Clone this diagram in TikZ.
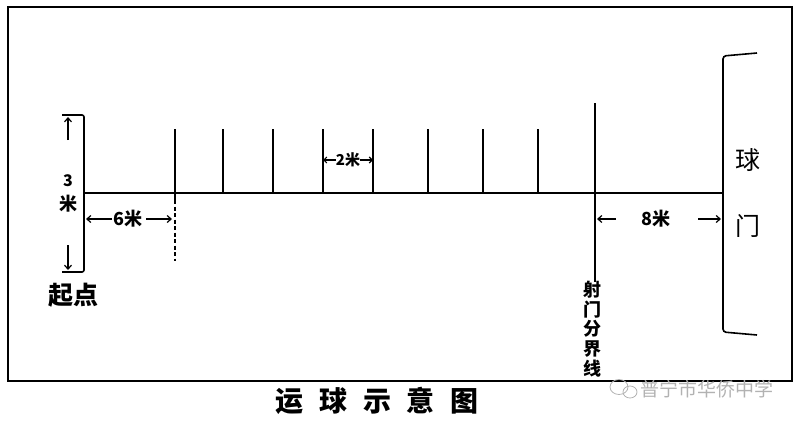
\documentclass[tikz,border=0pt]{standalone}
\usepackage{fontspec}
\newfontfamily\cjk{Noto Sans CJK SC}
\usetikzlibrary{arrows.meta}
\begin{document}
\begin{tikzpicture}[x=1pt,y=-1pt,
  line/.style={line width=1.6pt, black},
  dim/.style={line width=1.2pt, -{Straight Barb[length=4pt,width=7pt]}},
  lbl/.style={font=\cjk\bfseries, inner sep=0pt},
]
\useasboundingbox (0,0) rectangle (800,423);
% frame
\draw[line width=1.8pt] (8,7) rectangle (792,381);
% main line
\coordinate (start) at (84,193);
\coordinate (goalmid) at (723,193);
\draw[line] (start) -- (goalmid);
% start bar (bracket)
\coordinate (sb1) at (62,115);
\coordinate (sb4) at (62,272);
\draw[line, rounded corners=2pt] (sb1) -- (84,115) -- (84,272) -- (sb4);
\coordinate (ua1) at (68,140); \coordinate (ua2) at (68,117);
\coordinate (da1) at (68,245); \coordinate (da2) at (68,270);
\draw[dim] (ua1) -- (ua2);
\draw[dim] (da1) -- (da2);
\node[lbl, font=\cjk\bfseries\fontsize{16}{16}\selectfont] (three) at (68,181) {3};
\node[lbl, font=\cjk\bfseries\fontsize{18}{18}\selectfont] (mi) at (68,204) {米};
\node[lbl, font=\cjk\bfseries\fontsize{25}{25}\selectfont] (qidian) at (73,295) {起点};
% poles
\foreach \i/\x in {1/175,2/223,3/273,4/323,5/373,6/428,7/483,8/538}{
  \coordinate (p\i t) at (\x,129);
  \coordinate (p\i b) at (\x,193);
  \draw[line] (p\i t) -- (p\i b);
}
% dashed extension of first pole
\coordinate (p1d) at (175,261);
\draw[line] (p1b) -- (175,200);
\draw[line, dash pattern=on 4pt off 2.5pt] (175,200) -- (p1d);
% 6 m
\node[lbl, font=\cjk\bfseries\fontsize{18}{18}\selectfont] (six) at (128,219) {6米};
\draw[dim] (112,219) -- (86,219);
\draw[dim] (146,219) -- (172,219);
% 2 m
\node[lbl, font=\cjk\bfseries\fontsize{15}{15}\selectfont] (two) at (348,160) {2米};
\draw[line width=1.1pt, -{Straight Barb[length=3pt,width=6pt]}] (two.west) -- (p4t |- two);
\draw[line width=1.1pt, -{Straight Barb[length=3pt,width=6pt]}] (two.east) -- (p5t |- two);
% shooting line
\coordinate (sl1) at (595,103);
\coordinate (sl2) at (595,282);
\draw[line] (sl1) -- (sl2);
\node[lbl, font=\cjk\bfseries\fontsize{18}{19.6}\selectfont, align=center, anchor=north] (shemen) at (592,281) {射\\门\\分\\界\\线};
% 8 m
\node[lbl, font=\cjk\bfseries\fontsize{18}{18}\selectfont] (eight) at (656,219) {8米};
\draw[dim] (616,219) -- (597,219);
\draw[dim] (698,219) -- (721,219);
% goal
\coordinate (g1) at (757,53);
\coordinate (g2) at (757,335);
\draw[line, rounded corners=3pt] (g1) -- (723,56) -- (723,332) -- (g2);
\node[lbl, font=\cjk\fontsize{25}{25}\selectfont] (qiu) at (748,160) {球};
\node[lbl, font=\cjk\fontsize{25}{25}\selectfont] (men) at (748,226) {门};
% title
\node[lbl, font=\cjk\bfseries\fontsize{28}{28}\selectfont] (title) at (377,401) {运\hspace{0.57em}球\hspace{0.57em}示\hspace{0.57em}意\hspace{0.57em}图};
% watermark
\node[lbl, font=\cjk\fontsize{19}{19}\selectfont, text=black!30, anchor=west] (wm) at (640,389) {普宁市华侨中学};
\draw[black!30, line width=0.8pt] (619,387) ellipse (9pt and 7.5pt);
\draw[black!30, line width=0.8pt] (630,392) ellipse (7pt and 6pt);
\end{tikzpicture}
\end{document}
